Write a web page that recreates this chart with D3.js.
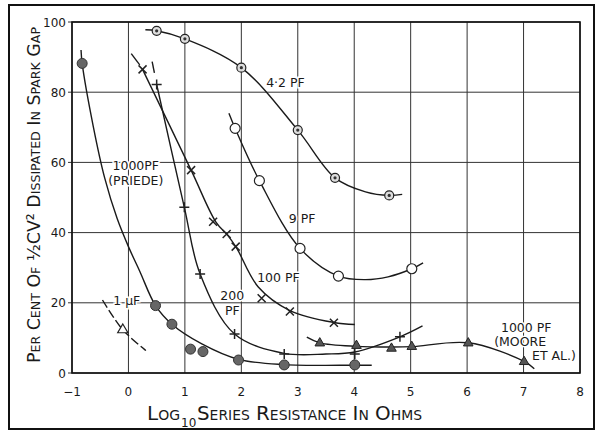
<!DOCTYPE html>
<html>
<head>
<meta charset="utf-8">
<script src="https://cdn.jsdelivr.net/npm/d3@7"></script>
<style>
  body { margin: 0; background: #fff; }
  svg { display: block; }
  text { font-family: "DejaVu Sans", sans-serif; fill: #1a1a1a; }
  .title { font-variant: small-caps; }
  .lbl { font-size: 12.5px; stroke: #fff; stroke-width: 3px; paint-order: stroke; }
</style>
</head>
<body>
<div id="chart"></div>
<script>
// axis ticks
var xTicks = [-1, 0, 1, 2, 3, 4, 5, 6, 7, 8];
var yTicks = [0, 20, 40, 60, 80, 100];

// measured points, [log10 R, per cent]
var pf42Pts = [[0.5, 97.5], [1.0, 95.2], [2.0, 87], [3.0, 69.2], [3.66, 55.6], [4.62, 50.6]];
var pf42Fit = [[0.3, 97.8], [0.5, 97.5], [1.0, 95.2], [2.0, 87], [3.0, 69.2], [3.66, 55.6], [4.2, 51.6], [4.62, 50.6], [4.85, 50.9]];

var pf9Pts = [[1.89, 69.7], [2.32, 54.8], [3.04, 35.5], [3.72, 27.6], [5.02, 29.7]];
var pf9Fit = [[1.78, 74], [1.89, 69.7], [2.32, 54.8], [3.04, 35.5], [3.72, 27.6], [4.2, 26.6], [4.6, 27.4], [5.02, 29.7], [5.22, 31.4]];

var pf100Pts = [[0.25, 86.5], [1.11, 57.8], [1.5, 43.1], [1.74, 39.6], [1.9, 36.0], [2.36, 21.3], [2.86, 17.5], [3.64, 14.3]];
var pf100Fit = [[0.25, 86.5], [1.11, 57.8], [1.55, 43], [1.76, 39.2], [1.92, 35.5], [2.3, 24.5], [2.86, 17.8], [3.64, 14.4], [4.01, 13.8]];
var pf100Dash = [[0.05, 91], [0.2, 87.8]];

var pf200Pts = [[0.5, 82.2], [0.99, 47.2], [1.27, 28.2], [1.88, 11.1], [2.76, 5.4], [4.01, 5.4], [4.81, 10.3]];
var pf200Fit = [[0.5, 82.2], [0.99, 47.2], [1.27, 28.2], [1.88, 11.1], [2.76, 5.6], [3.5, 5.4], [4.01, 6.0], [4.81, 10.3], [5.21, 13.4]];
var pf200Dash = [[0.42, 88.7], [0.46, 85.5]];

var priedePts = [[-0.82, 88.2], [0.48, 19.2], [0.77, 13.9], [1.10, 6.8], [1.32, 6.1], [1.95, 3.7], [2.76, 2.3], [4.01, 2.3]];
var priedeFit = [[-0.84, 92], [-0.82, 88.2], [-0.62, 70], [-0.42, 55.5], [-0.2, 44], [0, 36], [0.2, 29], [0.48, 19.2], [0.77, 13.9], [1.3, 8.3], [1.95, 3.9], [2.76, 2.4], [4.01, 2.2], [4.31, 2.2]];

var uFPts = [[-0.10, 12.3]];
var uFFit = [[-0.46, 20.8], [-0.10, 12.3], [0.31, 6.4]];

var moorePts = [[3.39, 8.5], [4.04, 7.8], [4.66, 7.0], [5.02, 7.5], [6.02, 8.5], [7.01, 3.2]];
var mooreFit = [[3.16, 10.2], [3.39, 8.6], [4.04, 7.6], [4.66, 7.4], [5.02, 7.5], [6.02, 8.6], [7.01, 3.3], [7.19, 1.2]];

var W = 597, H = 434;
var svg = d3.select("#chart").append("svg").attr("width", W).attr("height", H);

// outer frame
svg.append("rect").attr("x", 9).attr("y", 5).attr("width", 585).attr("height", 424)
    .attr("fill", "none").attr("stroke", "#111").attr("stroke-width", 2);

var x = d3.scaleLinear().domain([-1, 8]).range([72, 580]);
var y = d3.scaleLinear().domain([0, 100]).range([373, 22]);

// grid
svg.append("g").selectAll("line").data(xTicks).enter().append("line")
    .attr("x1", function(d){ return x(d); }).attr("x2", function(d){ return x(d); })
    .attr("y1", y(0)).attr("y2", y(100))
    .attr("stroke", "#333").attr("stroke-width", 1);
svg.append("g").selectAll("line").data(yTicks).enter().append("line")
    .attr("x1", x(-1) - 4).attr("x2", x(8))
    .attr("y1", function(d){ return y(d); }).attr("y2", function(d){ return y(d); })
    .attr("stroke", "#333").attr("stroke-width", 1);
svg.append("rect").attr("x", x(-1)).attr("y", y(100))
    .attr("width", x(8) - x(-1)).attr("height", y(0) - y(100))
    .attr("fill", "none").attr("stroke", "#111").attr("stroke-width", 1.6);

// tick labels
svg.append("g").selectAll("text").data(xTicks).enter().append("text")
    .attr("x", function(d){ return x(d); }).attr("y", 396)
    .attr("text-anchor", "middle").style("font-size", "12px")
    .text(function(d){ return d < 0 ? "\u2212" + Math.abs(d) : d; });
svg.append("g").selectAll("text").data(yTicks).enter().append("text")
    .attr("x", 66).attr("y", function(d){ return y(d) + 4.5; })
    .attr("text-anchor", "end").style("font-size", "12px")
    .text(function(d){ return d; });

// axis titles
svg.append("text").attr("class", "title").attr("x", 147).attr("y", 420)
    .style("font-size", "20px").text("Log");
svg.append("text").attr("class", "title").attr("x", 181).attr("y", 427)
    .style("font-size", "12px").text("10");
svg.append("text").attr("class", "title").attr("x", 197).attr("y", 420)
    .style("font-size", "20px").attr("textLength", 225).attr("lengthAdjust", "spacingAndGlyphs")
    .text("Series  Resistance  In  Ohms");

svg.append("text").attr("class", "title")
    .attr("transform", "translate(40,363) rotate(-90)")
    .style("font-size", "18px").attr("textLength", 336).attr("lengthAdjust", "spacingAndGlyphs")
    .text("Per Cent Of \u00BDCV\u00B2 Dissipated In Spark Gap");

// curves
var line = d3.line()
    .x(function(d){ return x(d[0]); })
    .y(function(d){ return y(d[1]); })
    .curve(d3.curveCatmullRom.alpha(0.5));

var fits = [pf42Fit, pf9Fit, pf100Fit, pf200Fit, priedeFit, mooreFit, pf100Dash, pf200Dash];
svg.append("g").selectAll("path").data(fits).enter().append("path")
    .attr("d", line).attr("fill", "none")
    .attr("stroke", "#1a1a1a").attr("stroke-width", 1.4);
svg.append("path").datum(uFFit).attr("d", line).attr("fill", "none")
    .attr("stroke", "#1a1a1a").attr("stroke-width", 1.4).attr("stroke-dasharray", "9,3");

// markers
function px(d){ return x(d[0]); }
function py(d){ return y(d[1]); }

var g42 = svg.append("g").selectAll("g").data(pf42Pts).enter().append("g");
g42.append("circle").attr("cx", px).attr("cy", py).attr("r", 4.5)
    .attr("fill", "#ddd").attr("stroke", "#222").attr("stroke-width", 1.2);
g42.append("circle").attr("cx", px).attr("cy", py).attr("r", 1.6).attr("fill", "#333");

svg.append("g").selectAll("circle").data(pf9Pts).enter().append("circle")
    .attr("cx", px).attr("cy", py).attr("r", 5)
    .attr("fill", "#fff").attr("stroke", "#222").attr("stroke-width", 1.2);

svg.append("g").selectAll("path").data(pf100Pts).enter().append("path")
    .attr("d", function(d){ var a = px(d), b = py(d), s = 4;
        return "M" + (a - s) + "," + (b - s) + "L" + (a + s) + "," + (b + s) +
               "M" + (a + s) + "," + (b - s) + "L" + (a - s) + "," + (b + s); })
    .attr("stroke", "#222").attr("stroke-width", 1.5).attr("fill", "none");

svg.append("g").selectAll("path").data(pf200Pts).enter().append("path")
    .attr("d", function(d){ var a = px(d), b = py(d), s = 5;
        return "M" + (a - s) + "," + b + "L" + (a + s) + "," + b +
               "M" + a + "," + (b - s) + "L" + a + "," + (b + s); })
    .attr("stroke", "#222").attr("stroke-width", 1.5).attr("fill", "none");

svg.append("g").selectAll("circle").data(priedePts).enter().append("circle")
    .attr("cx", px).attr("cy", py).attr("r", 5)
    .attr("fill", "#666").attr("stroke", "#333").attr("stroke-width", 1);

var tri = d3.symbol().type(d3.symbolTriangle);
svg.append("g").selectAll("path").data(uFPts).enter().append("path")
    .attr("transform", function(d){ return "translate(" + px(d) + "," + py(d) + ")"; })
    .attr("d", tri.size(45)).attr("fill", "#fff").attr("stroke", "#222").attr("stroke-width", 1.2);
svg.append("g").selectAll("path").data(moorePts).enter().append("path")
    .attr("transform", function(d){ return "translate(" + px(d) + "," + py(d) + ")"; })
    .attr("d", tri.size(40)).attr("fill", "#555").attr("stroke", "#222").attr("stroke-width", 1);

// curve labels
function label(lines, lx, ly, anchor){
    var t = svg.append("text").attr("class", "lbl").attr("text-anchor", anchor || "start");
    lines.forEach(function(s, i){
        t.append("tspan").attr("x", x(lx)).attr("y", y(ly) + i * 15).text(s);
    });
}
label(["4\u00B72 PF"], 2.44, 81.6);
label(["9 PF"], 2.84, 42.8);
label(["100 PF"], 2.28, 26);
label(["200", "PF"], 1.84, 20.8, "middle");
label(["1000PF", "(PRIEDE)"], 0.13, 57.8, "middle");
label(["1 \u00B5F"], -0.27, 19.4);
label(["1000 PF"], 6.6, 11.8);
label(["(MOORE"], 6.48, 7.8);
label(["ET AL.)"], 7.15, 3.8);
</script>
</body>
</html>
